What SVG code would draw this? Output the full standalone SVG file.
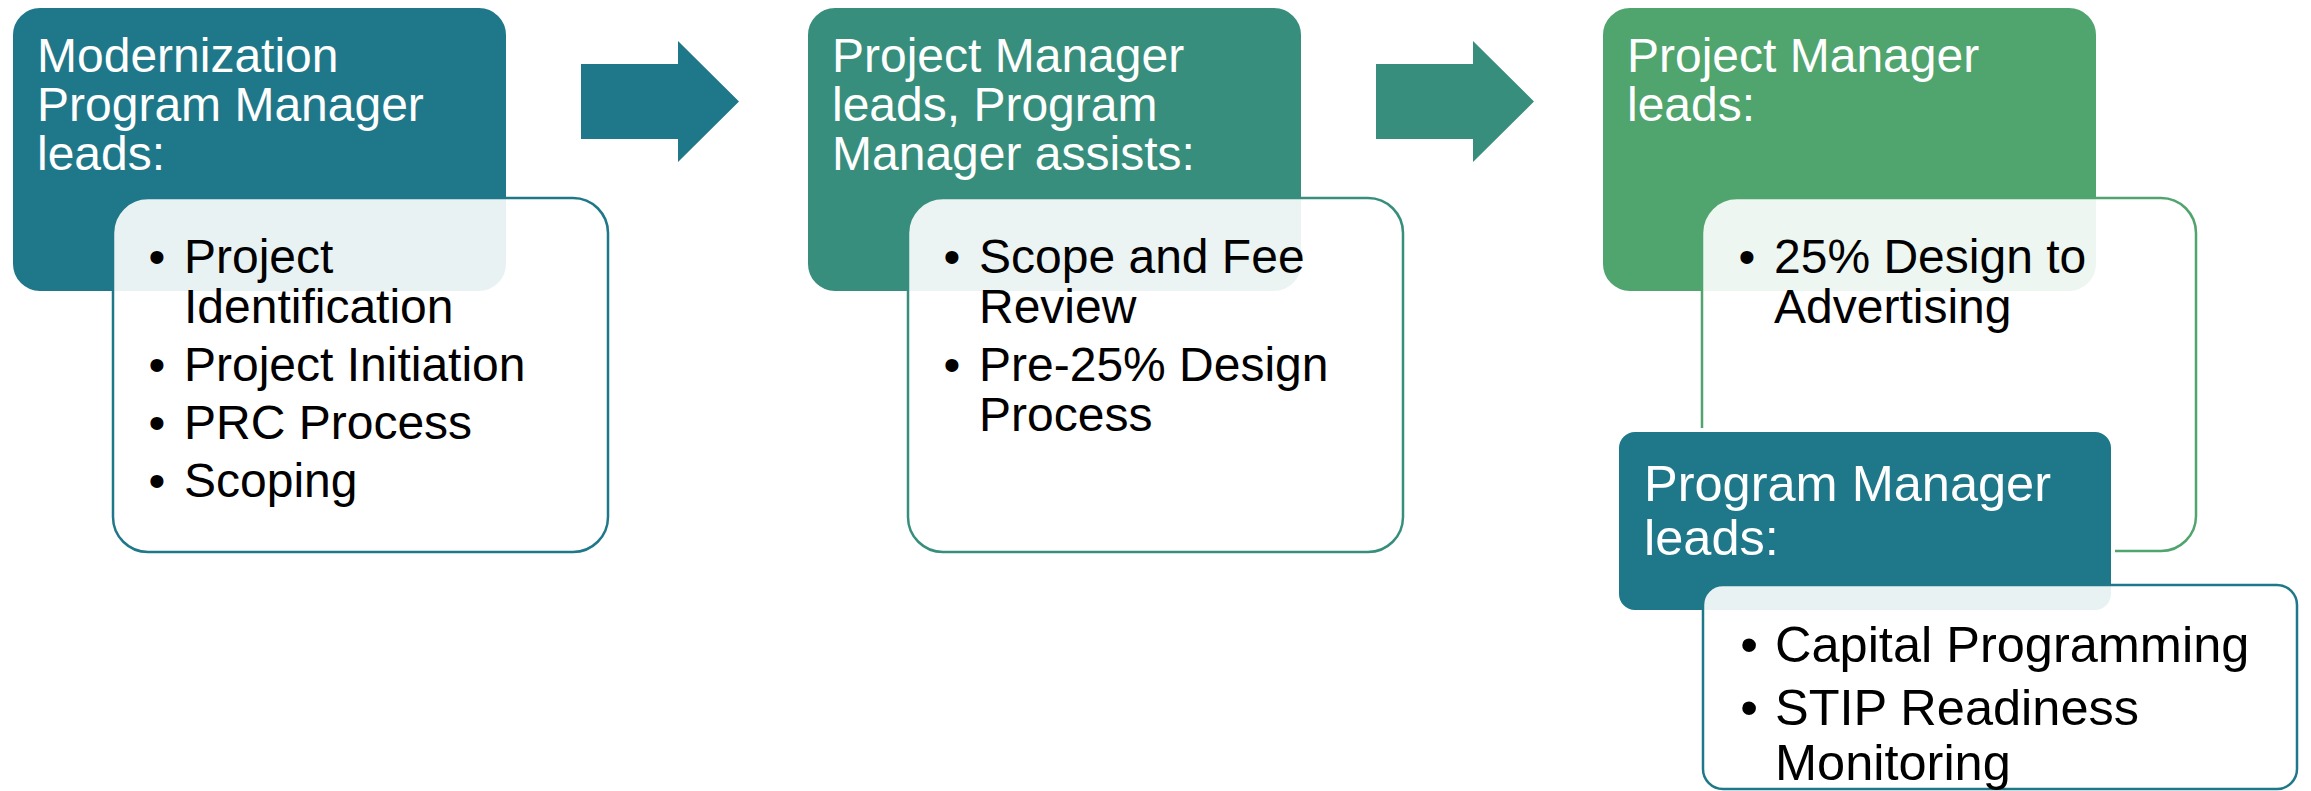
<svg xmlns="http://www.w3.org/2000/svg" width="2311" height="791" viewBox="0 0 2311 791">
<style>
.t{font-family:"Liberation Sans",Arial,sans-serif;font-size:48px}
.t2{font-family:"Liberation Sans",Arial,sans-serif;font-size:50.5px}
.w{fill:#fff}
.k{fill:#000}
.c1{fill:#1F7889}
.c2{fill:#378E7C}
.c3{fill:#50A46E}
.hd{stroke:#fff;stroke-width:2}
.in{fill:#fff;fill-opacity:0.9;stroke-width:2.5}
.s1{stroke:#1F7889}
.s2{stroke:#378E7C}
.s3{stroke:#50A46E}
.bu{text-anchor:middle}
</style>
<rect width="2311" height="791" fill="#fff"/>
<g id="connectors">
<path class="c1" d="M581,64 H678 V41 L739,101.5 L678,162 V139 H581 Z"/>
<path class="c2" d="M1376,64 H1473 V41 L1534,101.5 L1473,162 V139 H1376 Z"/>
</g>
<g id="node1-head">
<rect class="c1 hd" x="12" y="7" width="495" height="285" rx="28"/>
<text class="t w"><tspan x="37" y="72">Modernization</tspan><tspan x="37" y="121">Program Manager</tspan><tspan x="37" y="170">leads:</tspan></text>
</g>
<g id="node1-list">
<rect class="in s1" x="113" y="198" width="495" height="354" rx="35"/>
<text class="t k bu"><tspan x="157" y="273">•</tspan><tspan x="157" y="381">•</tspan><tspan x="157" y="439">•</tspan><tspan x="157" y="497">•</tspan></text>
<text class="t k"><tspan x="184" y="273">Project</tspan><tspan x="184" y="323">Identification</tspan><tspan x="184" y="381">Project Initiation</tspan><tspan x="184" y="439">PRC Process</tspan><tspan x="184" y="497">Scoping</tspan></text>
</g>
<g id="node2-head">
<rect class="c2 hd" x="807" y="7" width="495" height="285" rx="28"/>
<text class="t w"><tspan x="832" y="72">Project Manager</tspan><tspan x="832" y="121">leads, Program</tspan><tspan x="832" y="170">Manager assists:</tspan></text>
</g>
<g id="node2-list">
<rect class="in s2" x="908" y="198" width="495" height="354" rx="35"/>
<text class="t k bu"><tspan x="952" y="273">•</tspan><tspan x="952" y="381">•</tspan></text>
<text class="t k"><tspan x="979" y="273">Scope and Fee</tspan><tspan x="979" y="323">Review</tspan><tspan x="979" y="381">Pre-25% Design</tspan><tspan x="979" y="431">Process</tspan></text>
</g>
<g id="node3-head">
<rect class="c3 hd" x="1602" y="7" width="495" height="285" rx="28"/>
<text class="t w"><tspan x="1627" y="72">Project Manager</tspan><tspan x="1627" y="121">leads:</tspan></text>
</g>
<g id="node3-list">
<rect class="in s3" x="1702" y="198" width="494" height="353" rx="35"/>
<text class="t k bu"><tspan x="1747" y="273">•</tspan></text>
<text class="t k"><tspan x="1774" y="273">25% Design to</tspan><tspan x="1774" y="323">Advertising</tspan></text>
</g>
<g id="node4-head">
<rect class="c1" x="1617" y="430" width="496" height="182" rx="18" stroke="#fff" stroke-width="4"/>
<text class="t2 w"><tspan x="1644" y="501">Program Manager</tspan><tspan x="1644" y="555">leads:</tspan></text>
</g>
<g id="node4-list">
<rect class="in s1" x="1703" y="585" width="594" height="204" rx="20"/>
<text class="t2 k bu"><tspan x="1749" y="662">•</tspan><tspan x="1749" y="725">•</tspan></text>
<text class="t2 k"><tspan x="1775" y="662">Capital Programming</tspan><tspan x="1775" y="725">STIP Readiness</tspan><tspan x="1775" y="780">Monitoring</tspan></text>
</g>
</svg>
